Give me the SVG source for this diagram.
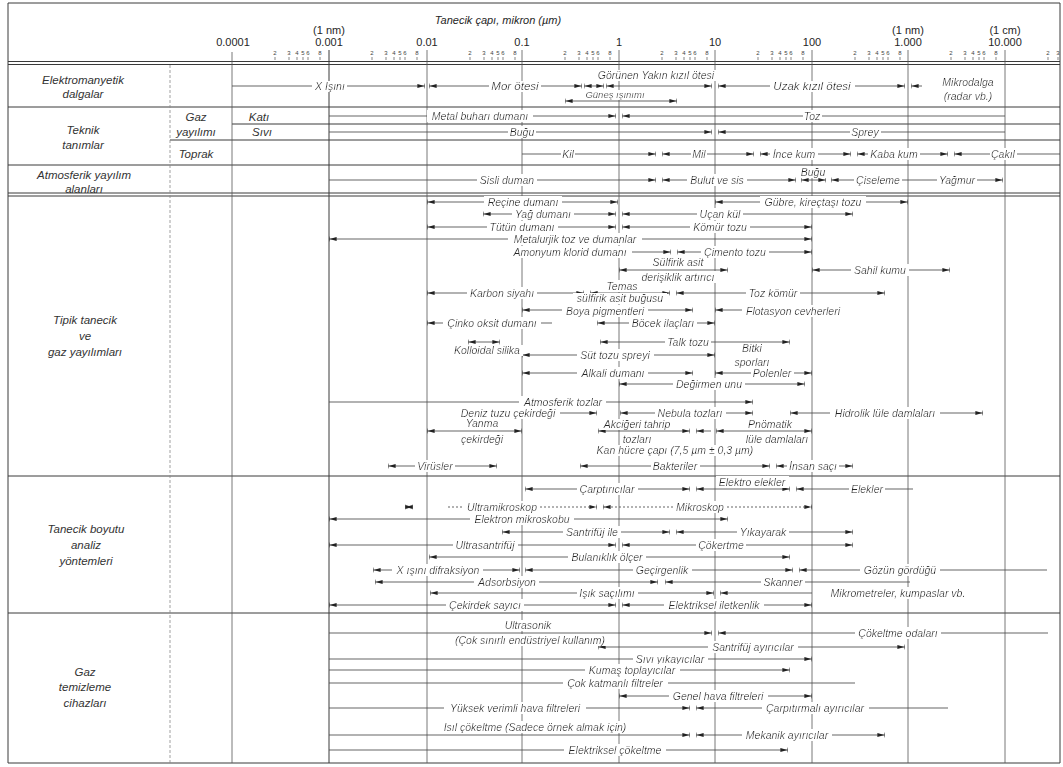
<svg xmlns="http://www.w3.org/2000/svg" width="1063" height="767" viewBox="0 0 1063 767">
<style>
text{font-family:"Liberation Sans",Arial,sans-serif;fill:#262626}
.t{font-style:italic;font-size:10.5px;text-anchor:middle;filter:url(#bg)}
.big{font-size:11.5px}
.sm{font-size:9.5px}
.rl{font-style:italic;font-size:11.5px;text-anchor:middle;fill:#333}
.h{font-size:11px;text-anchor:middle}
.tk{font-size:6px;text-anchor:middle;fill:#444}
.fr{stroke:#3a3a3a;stroke-width:1;fill:none}
.gr{stroke:#555;stroke-width:0.8;fill:none}
.gl{stroke:#888;stroke-width:0.8;stroke-dasharray:3 2;fill:none}
.c line{stroke:#4a4a4a;stroke-width:0.85}
.c .dt{stroke-dasharray:2 2}
.s{marker-start:url(#m)}
.e{marker-end:url(#m)}
</style>
<defs>
<filter id="bg" x="-0.04" y="0.1" width="1.08" height="0.9">
<feFlood flood-color="#fff"/>
<feComposite in="SourceGraphic" operator="over"/>
</filter>
<marker id="m" viewBox="0 0 8 6" refX="7.6" refY="3" markerWidth="8" markerHeight="6" markerUnits="userSpaceOnUse" orient="auto-start-reverse">
<path d="M0,1 L7,3 L0,5 Z" fill="#222"/>
<path d="M7.6,0.6 V5.4" stroke="#222" stroke-width="0.9"/>
</marker>
</defs>
<rect width="1063" height="767" fill="#fff"/>

<g id="frame">
<path class="fr" d="M8 3H1060M8 3V763H1060V3M8 61.5H1060M8 64.5H1060M8 107H1060M232 124H1060M170 140H1060M8 165H1060M8 193H1060M8 196H1060M8 476H1060M8 613H1060"/>
<path class="gl" d="M170 65V763"/>
<path class="gr" d="M232 52V763M427 50V763M522 50V763M619 50V763M715 50V763M812 50V763M908 50V763M1005 50V763"/>
<path class="fr" d="M329 50V763" stroke-width="1.3"/>
</g>

<g id="header">
<text class="h" x="498" y="24" font-style="italic">Tanecik çapı, mikron (µm)</text>
<text class="h" x="329" y="34">(1 nm)</text>
<text class="h" x="908" y="34">(1 nm)</text>
<text class="h" x="1005" y="34">(1 cm)</text>
<text class="h" x="233" y="46">0.0001</text>
<text class="h" x="329" y="46">0.001</text>
<text class="h" x="427" y="46">0.01</text>
<text class="h" x="522" y="46">0.1</text>
<text class="h" x="619" y="46">1</text>
<text class="h" x="715" y="46">10</text>
<text class="h" x="812" y="46">100</text>
<text class="h" x="908" y="46">1.000</text>
<text class="h" x="1005" y="46">10.000</text>
<text class="tk" x="275 289 297 303 308 320" y="55">234568</text>
<text class="tk" x="372 386 394 400 405 417" y="55">234568</text>
<text class="tk" x="470 484 492 498 503 515" y="55">234568</text>
<text class="tk" x="565 579 587 593 598 610" y="55">234568</text>
<text class="tk" x="662 676 684 690 695 707" y="55">234568</text>
<text class="tk" x="758 772 780 786 791 803" y="55">234568</text>
<text class="tk" x="855 869 877 883 888 900" y="55">234568</text>
<text class="tk" x="951 965 973 979 984 996" y="55">234568</text>
<text class="tk" x="1048 1058" y="55">23</text>
<path stroke="#555" stroke-width="0.7" d="M275 57v3M289 57v3M297 57v3M303 57v3M308 57v3M320 57v3M372 57v3M386 57v3M394 57v3M400 57v3M405 57v3M417 57v3M470 57v3M484 57v3M492 57v3M498 57v3M503 57v3M515 57v3M565 57v3M579 57v3M587 57v3M593 57v3M598 57v3M610 57v3M662 57v3M676 57v3M684 57v3M690 57v3M695 57v3M707 57v3M758 57v3M772 57v3M780 57v3M786 57v3M791 57v3M803 57v3M855 57v3M869 57v3M877 57v3M883 57v3M888 57v3M900 57v3M951 57v3M965 57v3M973 57v3M979 57v3M984 57v3M996 57v3M1048 57v3M1058 57v3"/>
</g>

<g id="row-labels">
<text class="rl" x="83" y="84">Elektromanyetik</text>
<text class="rl" x="83" y="98">dalgalar</text>
<text class="rl" x="83" y="134">Teknik</text>
<text class="rl" x="83" y="149">tanımlar</text>
<text class="rl" x="196" y="121">Gaz</text>
<text class="rl" x="196" y="136">yayılımı</text>
<text class="rl" x="259" y="121">Katı</text>
<text class="rl" x="262" y="136">Sıvı</text>
<text class="rl" x="196" y="158">Toprak</text>
<text class="rl" x="84" y="179">Atmosferik yayılım</text>
<text class="rl" x="84" y="193">alanları</text>
<text class="rl" x="85" y="324">Tipik tanecik</text>
<text class="rl" x="85" y="340">ve</text>
<text class="rl" x="85" y="356">gaz yayılımları</text>
<text class="rl" x="86" y="533">Tanecik boyutu</text>
<text class="rl" x="86" y="549">analiz</text>
<text class="rl" x="86" y="565">yöntemleri</text>
<text class="rl" x="85" y="676">Gaz</text>
<text class="rl" x="85" y="691">temizleme</text>
<text class="rl" x="85" y="707">cihazları</text>
</g>

<g id="connectors" class="c">
<line class="e" x1="232" y1="86" x2="425" y2="86"/>
<line class="s e" x1="429" y1="86" x2="582" y2="86"/>
<line class="s e" x1="584" y1="86" x2="604" y2="86"/>
<line class="s e" x1="606" y1="86" x2="712" y2="86"/>
<line class="s e" x1="718" y1="86" x2="905" y2="86"/>
<line class="s" x1="911" y1="86" x2="922" y2="86"/>
<line class="s e" x1="565" y1="101" x2="677" y2="101"/>
<line class="e" x1="329" y1="116" x2="616" y2="116"/>
<line class="s" x1="622" y1="116" x2="1005" y2="116"/>
<line class="e" x1="329" y1="132" x2="712" y2="132"/>
<line class="s" x1="718" y1="132" x2="1005" y2="132"/>
<line class="e" x1="522" y1="154" x2="656" y2="154"/>
<line class="s e" x1="662" y1="154" x2="754" y2="154"/>
<line class="s e" x1="760" y1="154" x2="851" y2="154"/>
<line class="s e" x1="857" y1="154" x2="948" y2="154"/>
<line class="s" x1="954" y1="154" x2="1060" y2="154"/>
<line class="e" x1="329" y1="180" x2="656" y2="180"/>
<line class="s e" x1="662" y1="180" x2="796" y2="180"/>
<line class="s e" x1="801" y1="180" x2="826" y2="180"/>
<line class="s" x1="831" y1="180" x2="908" y2="180"/>
<line class="e" x1="908" y1="180" x2="1003" y2="180"/>
<line class="s e" x1="427" y1="202" x2="618" y2="202"/>
<line class="s e" x1="715" y1="202" x2="908" y2="202"/>
<line class="s e" x1="483" y1="214" x2="616" y2="214"/>
<line class="s e" x1="622" y1="214" x2="853" y2="214"/>
<line class="s e" x1="427" y1="227" x2="616" y2="227"/>
<line class="s e" x1="622" y1="227" x2="812" y2="227"/>
<line class="s e" x1="329" y1="239" x2="812" y2="239"/>
<line class="e" x1="515" y1="252" x2="671" y2="252"/>
<line class="s e" x1="677" y1="252" x2="812" y2="252"/>
<line class="s e" x1="619" y1="270" x2="728" y2="270"/>
<line class="s e" x1="812" y1="270" x2="950" y2="270"/>
<line class="s e" x1="427" y1="293" x2="584" y2="293"/>
<line class="s e" x1="590" y1="293" x2="670" y2="293"/>
<line class="s e" x1="676" y1="293" x2="885" y2="293"/>
<line class="s e" x1="522" y1="310" x2="693" y2="310"/>
<line class="s" x1="715" y1="310" x2="742" y2="310"/>
<line class="s" x1="427" y1="323" x2="552" y2="323"/>
<line class="s e" x1="597" y1="323" x2="715" y2="323"/>
<line class="s e" x1="600" y1="342" x2="790" y2="342"/>
<line class="s e" x1="468" y1="342" x2="500" y2="342"/>
<line class="s e" x1="522" y1="355" x2="715" y2="355"/>
<line class="s e" x1="522" y1="373" x2="693" y2="373"/>
<line class="s e" x1="715" y1="373" x2="812" y2="373"/>
<line class="s e" x1="619" y1="384" x2="805" y2="384"/>
<line class="e" x1="329" y1="402" x2="753" y2="402"/>
<line class="e" x1="560" y1="413" x2="597" y2="413"/>
<line class="s e" x1="620" y1="413" x2="753" y2="413"/>
<line class="s e" x1="790" y1="413" x2="983" y2="413"/>
<line class="s e" x1="427" y1="431" x2="522" y2="431"/>
<line class="s e" x1="598" y1="431" x2="690" y2="431"/>
<line class="s" x1="696" y1="431" x2="711" y2="431"/>
<line class="s e" x1="716" y1="431" x2="812" y2="431"/>
<line class="s e" x1="388" y1="466" x2="497" y2="466"/>
<line class="s e" x1="580" y1="466" x2="770" y2="466"/>
<line class="s e" x1="776" y1="466" x2="853" y2="466"/>
<line class="s e" x1="525" y1="489" x2="690" y2="489"/>
<line class="s e" x1="696" y1="489" x2="790" y2="489"/>
<line class="s" x1="796" y1="489" x2="913" y2="489"/>
<line class="s e" x1="405" y1="507" x2="413" y2="507"/>
<line class="e dt" x1="448" y1="507" x2="597" y2="507"/>
<line class="s e dt" x1="603" y1="507" x2="812" y2="507"/>
<line class="s e" x1="329" y1="519" x2="728" y2="519"/>
<line class="s e" x1="502" y1="532" x2="670" y2="532"/>
<line class="s e" x1="676" y1="532" x2="853" y2="532"/>
<line class="s e" x1="329" y1="545" x2="616" y2="545"/>
<line class="s e" x1="622" y1="545" x2="853" y2="545"/>
<line class="s e" x1="429" y1="557" x2="790" y2="557"/>
<line class="s e" x1="373" y1="570" x2="520" y2="570"/>
<line class="s e" x1="525" y1="570" x2="793" y2="570"/>
<line class="s" x1="799" y1="570" x2="1047" y2="570"/>
<line class="s e" x1="375" y1="582" x2="658" y2="582"/>
<line class="s" x1="665" y1="582" x2="910" y2="582"/>
<line class="s e" x1="430" y1="593" x2="714" y2="593"/>
<line class="s" x1="720" y1="593" x2="812" y2="593"/>
<line class="s e" x1="329" y1="605" x2="616" y2="605"/>
<line class="s e" x1="622" y1="605" x2="812" y2="605"/>
<line class="e" x1="329" y1="633" x2="712" y2="633"/>
<line class="s" x1="718" y1="633" x2="1048" y2="633"/>
<line class="s e" x1="598" y1="647" x2="905" y2="647"/>
<line class="e" x1="329" y1="659" x2="812" y2="659"/>
<line class="e" x1="329" y1="670" x2="790" y2="670"/>
<line x1="329" y1="683" x2="855" y2="683"/>
<line class="s e" x1="619" y1="696" x2="812" y2="696"/>
<line class="e" x1="329" y1="708" x2="690" y2="708"/>
<line class="s" x1="696" y1="708" x2="948" y2="708"/>
<line class="e" x1="329" y1="735" x2="690" y2="735"/>
<line class="s e" x1="696" y1="735" x2="885" y2="735"/>
<line class="e" x1="329" y1="750" x2="788" y2="750"/>
</g>

<g id="em-labels">
<text class="t" x="330" y="90" font-size="12.5px">X Işını</text>
<text class="t big" x="515" y="90">Mor ötesi</text>
<text class="t" x="656" y="79">Görünen Yakın kızıl ötesi</text>
<text class="t sm" x="615" y="98">Güneş ışınımı</text>
<text class="t big" x="812" y="90">Uzak kızıl ötesi</text>
<text class="t" x="968" y="86" font-size="10px">Mikrodalga</text>
<text class="t" x="968" y="100" font-size="9px">(radar vb.)</text>
</g>

<g id="teknik-labels">
<text class="t" x="480" y="119.5">Metal buharı dumanı</text>
<text class="t" x="812" y="119.5">Toz</text>
<text class="t" x="522" y="135.5">Buğu</text>
<text class="t" x="865" y="135.5">Sprey</text>
<text class="t" x="568" y="157.5">Kil</text>
<text class="t" x="699" y="157.5">Mil</text>
<text class="t" x="794" y="157.5">İnce kum</text>
<text class="t" x="894" y="157.5">Kaba kum</text>
<text class="t" x="1003" y="157.5">Çakıl</text>
</g>

<g id="atmosfer-labels">
<text class="t" x="507" y="183.5">Sisli duman</text>
<text class="t" x="717" y="183.5">Bulut ve sis</text>
<text class="t" x="813" y="175.5">Buğu</text>
<text class="t" x="878" y="183.5">Çiseleme</text>
<text class="t" x="957" y="183.5">Yağmur</text>
</g>

<g id="tipik-labels">
<text class="t" x="523" y="205.5">Reçine dumanı</text>
<text class="t" x="813" y="205.5">Gübre, kireçtaşı tozu</text>
<text class="t" x="543" y="217.5">Yağ dumanı</text>
<text class="t" x="720" y="217.5">Uçan kül</text>
<text class="t" x="522" y="230.5">Tütün dumanı</text>
<text class="t" x="720" y="230.5">Kömür tozu</text>
<text class="t" x="575" y="242.5">Metalurjik toz ve dumanlar</text>
<text class="t" x="570" y="255.5">Amonyum klorid dumanı</text>
<text class="t" x="735" y="255.5">Çimento tozu</text>
<text class="t" x="678" y="265.5">Sülfirik asit</text>
<text class="t" x="678" y="280.5">derişiklik artırıcı</text>
<text class="t" x="880" y="273.5">Sahil kumu</text>
<text class="t" x="502" y="296.5">Karbon siyahı</text>
<text class="t" x="622" y="289.5" font-size="10px">Temas</text>
<text class="t" x="620" y="302" font-size="10px">sülfirik asit buğusu</text>
<text class="t" x="773" y="296.5">Toz kömür</text>
<text class="t" x="605" y="314.5">Boya pigmentleri</text>
<text class="t" x="793" y="314.5">Flotasyon cevherleri</text>
<text class="t" x="492" y="326.5">Çinko oksit dumanı</text>
<text class="t" x="663" y="326.5">Böcek ilaçları</text>
<text class="t" x="688" y="345.5">Talk tozu</text>
<text class="t" x="487" y="354">Kolloidal silika</text>
<text class="t" x="752" y="352">Bitki</text>
<text class="t" x="752" y="366">sporları</text>
<text class="t" x="615" y="358.5">Süt tozu spreyi</text>
<text class="t" x="613" y="376.5">Alkali dumanı</text>
<text class="t" x="772" y="376.5">Polenler</text>
<text class="t" x="709" y="387.5">Değirmen unu</text>
<text class="t" x="563" y="405.5">Atmosferik tozlar</text>
<text class="t" x="508" y="416.5">Deniz tuzu çekirdeği</text>
<text class="t" x="690" y="416.5">Nebula tozları</text>
<text class="t" x="885" y="416.5">Hidrolik lüle damlaları</text>
<text class="t" x="482" y="427">Yanma</text>
<text class="t" x="482" y="442.5">çekirdeği</text>
<text class="t" x="637" y="428">Akciğeri tahrip</text>
<text class="t" x="637" y="442.5">tozları</text>
<text class="t" x="770" y="428">Pnömatik</text>
<text class="t" x="777" y="442.5">lüle damlaları</text>
<text class="t" x="675" y="454">Kan hücre çapı (7,5  µm ± 0,3 µm)</text>
<text class="t" x="435" y="469.5">Virüsler</text>
<text class="t" x="675" y="469.5">Bakteriler</text>
<text class="t" x="813" y="469.5">İnsan saçı</text>
</g>

<g id="analiz-labels">
<text class="t" x="607" y="492.5">Çarptırıcılar</text>
<text class="t" x="752" y="485.5">Elektro elekler</text>
<text class="t" x="867" y="492.5">Elekler</text>
<text class="t" x="502" y="510.5">Ultramikroskop</text>
<text class="t" x="700" y="510.5">Mikroskop</text>
<text class="t" x="522" y="522.5">Elektron mikroskobu</text>
<text class="t" x="592" y="535.5">Santrifüj ile</text>
<text class="t" x="763" y="535.5">Yıkayarak</text>
<text class="t" x="485" y="548.5">Ultrasantrifüj</text>
<text class="t" x="721" y="548.5">Çökertme</text>
<text class="t" x="607" y="560.5">Bulanıklık ölçer</text>
<text class="t" x="438" y="573.5">X ışını difraksiyon</text>
<text class="t" x="662" y="573.5">Geçirgenlik</text>
<text class="t" x="900" y="573.5">Gözün gördüğü</text>
<text class="t" x="507" y="585.5">Adsorbsiyon</text>
<text class="t" x="783" y="585.5">Skanner</text>
<text class="t" x="607" y="596.5">Işık saçılımı</text>
<text class="t" x="898" y="596.5">Mikrometreler, kumpaslar vb.</text>
<text class="t" x="485" y="608.5">Çekirdek sayıcı</text>
<text class="t" x="714" y="608.5">Elektriksel iletkenlik</text>
</g>

<g id="temizleme-labels">
<text class="t" x="528" y="629">Ultrasonik</text>
<text class="t" x="530" y="643.5">(Çok sınırlı endüstriyel kullanım)</text>
<text class="t" x="898" y="636.5">Çökeltme odaları</text>
<text class="t" x="753" y="650.5">Santrifüj ayırıcılar</text>
<text class="t" x="670" y="662.5">Sıvı yıkayıcılar</text>
<text class="t" x="632" y="673.5">Kumaş toplayıcılar</text>
<text class="t" x="615" y="686.5">Çok katmanlı filtreler</text>
<text class="t" x="718" y="699.5">Genel hava filtreleri</text>
<text class="t" x="515" y="711.5">Yüksek verimli hava filtreleri</text>
<text class="t" x="815" y="711.5">Çarpıtırmalı ayırıcılar</text>
<text class="t" x="535" y="730.5">Isıl çökeltme (Sadece örnek almak için)</text>
<text class="t" x="787" y="738.5">Mekanik ayırıcılar</text>
<text class="t" x="615" y="753.5">Elektriksel çökeltme</text>
</g>
</svg>
